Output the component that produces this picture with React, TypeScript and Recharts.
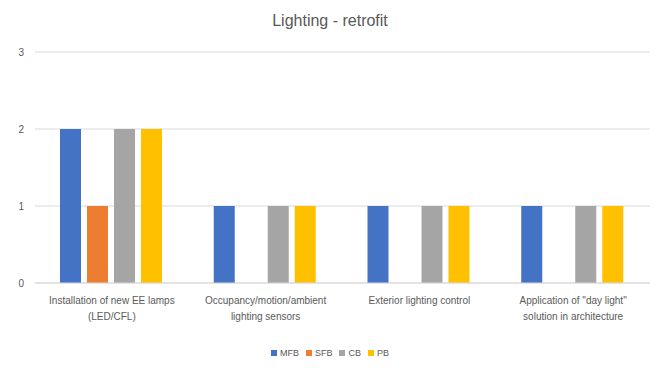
import React from 'react';
import {
  BarChart,
  Bar,
  XAxis,
  YAxis,
  CartesianGrid,
} from 'recharts';

const categories = [
  'Installation of new EE lamps (LED/CFL)',
  'Occupancy/motion/ambient lighting sensors',
  'Exterior lighting control',
  'Application of "day light" solution in architecture',
];

// how each category label wraps under the axis
const categoryLines: string[][] = [
  ['Installation of new EE lamps', '(LED/CFL)'],
  ['Occupancy/motion/ambient', 'lighting sensors'],
  ['Exterior lighting control'],
  ['Application of "day light"', 'solution in architecture'],
];

const mfb = [2, 1, 1, 1];
const sfb = [1, 0, 0, 0];
const cb = [2, 1, 1, 1];
const pb = [2, 1, 1, 1];

const yTicks = [0, 1, 2, 3];

const series = [
  { key: 'MFB', color: '#4472C4' },
  { key: 'SFB', color: '#ED7D31' },
  { key: 'CB', color: '#A5A5A5' },
  { key: 'PB', color: '#FFC000' },
];

const data = categories.map((name, i) => ({
  name,
  MFB: mfb[i],
  SFB: sfb[i],
  CB: cb[i],
  PB: pb[i],
}));

const FONT = '"Liberation Sans", Arial, sans-serif';
const TEXT = '#595959';

function CategoryTick(props: any) {
  const { x, y, index } = props;
  const lines = categoryLines[index] || [];
  return (
    <text x={x} y={y} textAnchor="middle" fill={TEXT} fontSize={10} fontFamily={FONT}>
      {lines.map((l, i) => (
        <tspan key={i} x={x} dy={i === 0 ? 13 : 16}>
          {l}
        </tspan>
      ))}
    </text>
  );
}

export default function App() {
  return (
    <div style={{ position: 'absolute', left: 0, top: 0, width: 660, height: 368, background: '#fff' }}>
      <div
        style={{
          position: 'absolute',
          top: 13,
          width: 660,
          textAlign: 'center',
          fontFamily: FONT,
          fontSize: 16,
          lineHeight: '16px',
          color: TEXT,
        }}
      >
        Lighting - retrofit
      </div>
      <BarChart
        width={660}
        height={368}
        data={data}
        margin={{ top: 52, right: 10, left: 0, bottom: 55 }}
        barCategoryGap={25}
        barGap={6}
      >
        <CartesianGrid vertical={false} stroke="#d9d9d9" />
        <XAxis
          dataKey="name"
          height={30}
          axisLine={{ stroke: '#d9d9d9' }}
          tickLine={false}
          interval={0}
          tick={<CategoryTick />}
        />
        <YAxis
          width={35}
          domain={[0, 3]}
          ticks={yTicks}
          axisLine={false}
          tickLine={false}
          tickMargin={5}
          tick={{ fill: TEXT, fontSize: 10, fontFamily: FONT }}
        />
        {series.map((s) => (
          <Bar key={s.key} dataKey={s.key} fill={s.color} isAnimationActive={false} />
        ))}
      </BarChart>
      <div
        style={{
          position: 'absolute',
          top: 346,
          left: 0,
          width: 660,
          display: 'flex',
          justifyContent: 'center',
          gap: 7,
          fontFamily: FONT,
          fontSize: 9,
          lineHeight: '14px',
          color: TEXT,
        }}
      >
        {series.map((s) => (
          <span key={s.key} style={{ display: 'flex', alignItems: 'center' }}>
            <span style={{ width: 6, height: 6, background: s.color, marginRight: 3 }} />
            {s.key}
          </span>
        ))}
      </div>
    </div>
  );
}
